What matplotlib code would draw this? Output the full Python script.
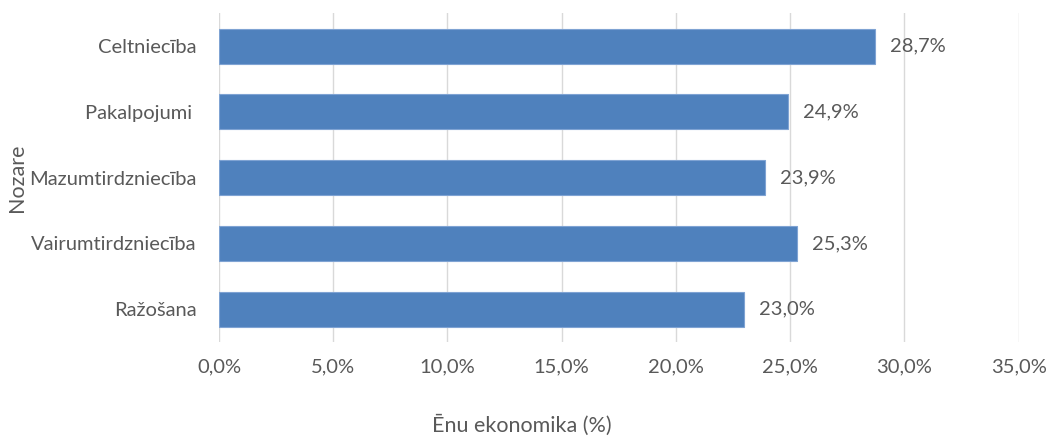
import matplotlib
matplotlib.use("Agg")
import matplotlib.pyplot as plt
from matplotlib.ticker import FuncFormatter, MultipleLocator

categories = ["Celtniecība", "Pakalpojumi ", "Mazumtirdzniecība", "Vairumtirdzniecība", "Ražošana"]
values = [28.7, 24.9, 23.9, 25.3, 23.0]
xlabel = "Ēnu ekonomika (%)"
ylabel = "Nozare"

plt.rcParams['font.family'] = ['Lato', 'DejaVu Sans']
text_color = "#595959"

fig = plt.figure(figsize=(10.48, 4.36), dpi=100)
ax = fig.add_axes([0.209, 0.2156, 0.763, 0.754])

ypos = list(range(len(categories)))[::-1]
bars = ax.barh(ypos, values, height=0.53, color="#4F81BD", edgecolor="#7FA3D3", linewidth=0.8, zorder=3)

ax.set_xlim(0, 35)
ax.set_ylim(-0.5, len(categories) - 0.5)
ax.xaxis.set_major_locator(MultipleLocator(5))
ax.xaxis.set_major_formatter(FuncFormatter(lambda v, p: f"{v:.1f}%".replace(".", ",")))
ax.set_yticks(ypos)
ax.set_yticklabels(categories)

for s in ["top", "right", "bottom", "left"]:
    ax.spines[s].set_visible(False)
ax.grid(axis="x", color="#D9D9D9", linewidth=1.0, zorder=0)
ax.tick_params(axis="both", length=0, labelsize=14.5, labelcolor=text_color)
ax.tick_params(axis="y", pad=16)
ax.tick_params(axis="x", pad=12)

for b, v in zip(bars, values):
    ax.annotate(f"{v:.1f}%".replace(".", ","), xy=(b.get_width(), b.get_y() + b.get_height() / 2),
                xytext=(15, 0), textcoords="offset pixels",
                va="center", ha="left", fontsize=14.5, color=text_color)

fig.text(522 / 1048, 1 - 425 / 436, xlabel, ha="center", va="center", fontsize=15.5, color=text_color)
fig.text(17 / 1048, 1 - 178 / 436, ylabel, ha="center", va="center", rotation=90, fontsize=15.5, color=text_color)

fig.savefig("out.png", dpi=100)
